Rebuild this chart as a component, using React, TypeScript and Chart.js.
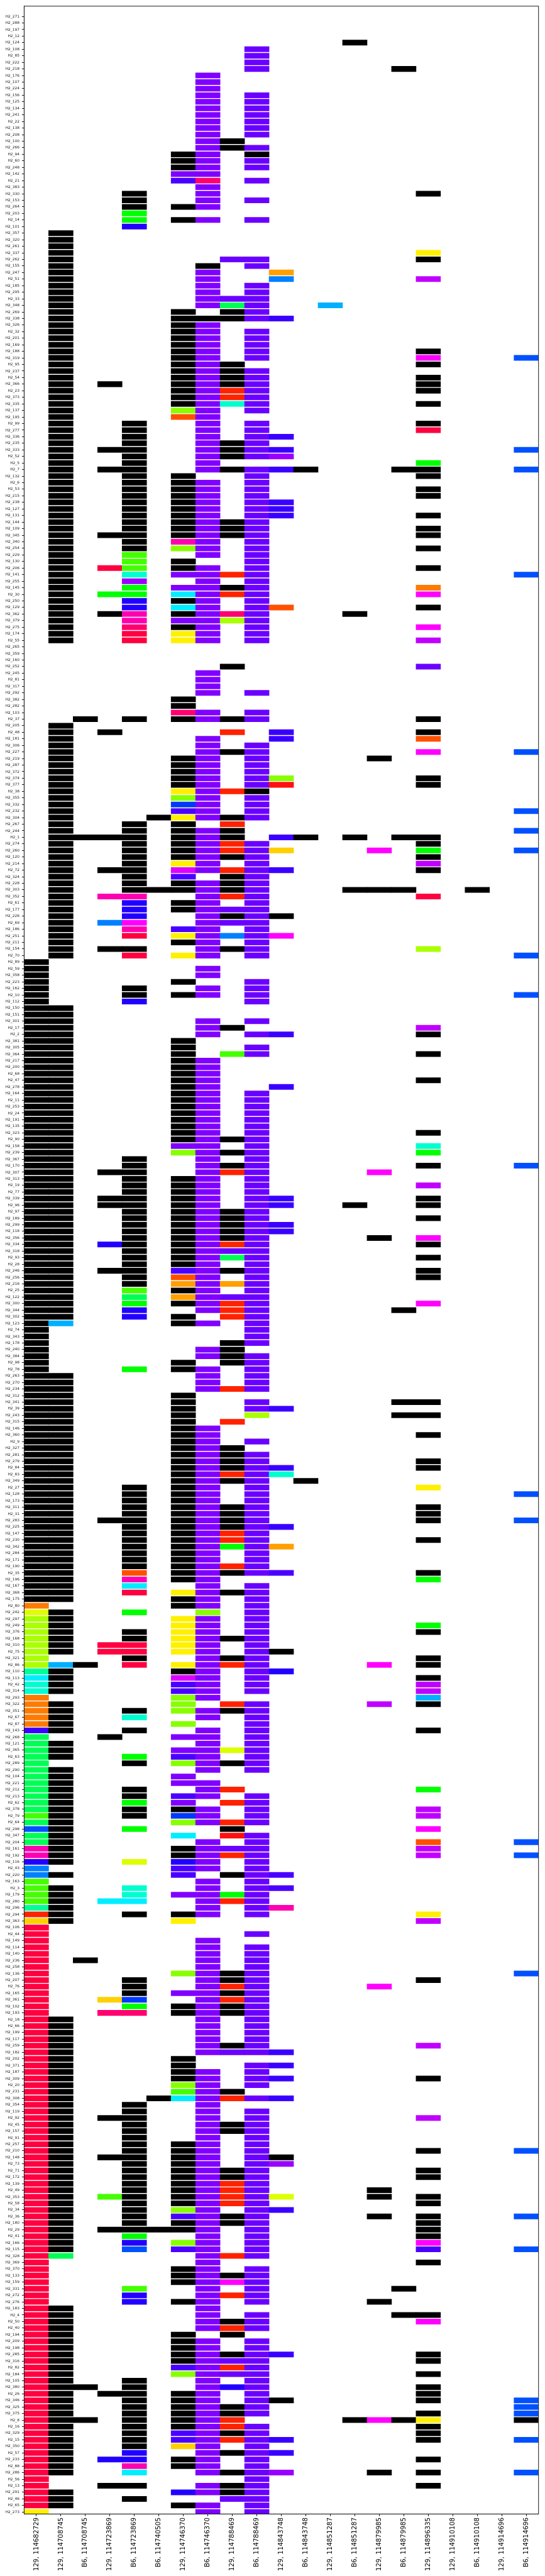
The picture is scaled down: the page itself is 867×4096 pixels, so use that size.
import { useEffect, useRef } from 'react';
import { Chart, registerables } from 'chart.js';

Chart.register(...registerables);

const colLabels = [
  '129, 114682729', '129, 114708745', 'B6, 114708745', '129, 114723869', 'B6, 114723869',
  'B6, 114740505', '129, 114746370', 'B6, 114746370', '129, 114788469', 'B6, 114788469',
  '129, 114843748', 'B6, 114843748', '129, 114851287', 'B6, 114851287', '129, 114879985',
  'B6, 114879985', '129, 114896335', '129, 114910108', 'B6, 114910108', '129, 114914696',
  'B6, 114914696',
];

const rowLabels = [
  'H2_271','H2_288','H2_197','H2_12','H2_124','H2_108','H2_85','H2_222','H2_218','H2_176',
  'H2_107','H2_224','H2_156','H2_125','H2_134','H2_241','H2_22','H2_138','H2_208','H2_100',
  'H2_266','H2_94','H2_60','H2_248','H2_142','H2_21','H2_383','H2_330','H2_153','H2_264',
  'H2_203','H2_14','H2_101','H2_357','H2_320','H2_261','H2_337','H2_262','H2_155','H2_247',
  'H2_51','H2_185','H2_295','H2_33','H2_348','H2_269','H2_338','H2_326','H2_32','H2_201',
  'H2_169','H2_188','H2_319','H2_95','H2_237','H2_54','H2_366','H2_23','H2_373','H2_335',
  'H2_137','H2_195','H2_99','H2_277','H2_336','H2_235','H2_333','H2_52','H2_5','H2_7',
  'H2_132','H2_6','H2_53','H2_215','H2_238','H2_127','H2_131','H2_144','H2_109','H2_345',
  'H2_340','H2_254','H2_229','H2_130','H2_206','H2_141','H2_255','H2_145','H2_30','H2_250',
  'H2_129','H2_362','H2_379','H2_275','H2_174','H2_55','H2_265','H2_359','H2_160','H2_252',
  'H2_245','H2_81','H2_317','H2_292','H2_382','H2_282','H2_103','H2_37','H2_205','H2_48',
  'H2_181','H2_306','H2_227','H2_219','H2_287','H2_372','H2_374','H2_377','H2_38','H2_355',
  'H2_332','H2_232','H2_304','H2_267','H2_244','H2_1','H2_274','H2_260','H2_120','H2_214',
  'H2_72','H2_324','H2_228','H2_303','H2_352','H2_61','H2_177','H2_226','H2_69','H2_186',
  'H2_251','H2_211','H2_154','H2_70','H2_89','H2_59','H2_358','H2_223','H2_162','H2_10',
  'H2_112','H2_150','H2_151','H2_301','H2_17','H2_2','H2_381','H2_305','H2_364','H2_217',
  'H2_200','H2_68','H2_47','H2_278','H2_164','H2_11','H2_253','H2_24','H2_191','H2_135',
  'H2_323','H2_90','H2_158','H2_239','H2_367','H2_170','H2_307','H2_313','H2_19','H2_77',
  'H2_339','H2_96','H2_97','H2_189','H2_299','H2_118','H2_356','H2_334','H2_318','H2_93',
  'H2_28','H2_246','H2_256','H2_216','H2_25','H2_122','H2_300','H2_344','H2_302','H2_123',
  'H2_74','H2_343','H2_178','H2_240','H2_384','H2_98','H2_78','H2_263','H2_270','H2_234',
  'H2_312','H2_341','H2_39','H2_243','H2_315','H2_146','H2_360','H2_9','H2_327','H2_281',
  'H2_279','H2_84','H2_83','H2_349','H2_27','H2_128','H2_173','H2_311','H2_31','H2_283',
  'H2_225','H2_147','H2_230','H2_342','H2_284','H2_171','H2_190','H2_35','H2_196','H2_167',
  'H2_368','H2_175','H2_80','H2_242','H2_297','H2_249','H2_376','H2_168','H2_310','H2_75',
  'H2_321','H2_86','H2_110','H2_113','H2_42','H2_314','H2_293','H2_322','H2_351','H2_67',
  'H2_87','H2_143','H2_268','H2_121','H2_365','H2_63','H2_289','H2_290','H2_104','H2_221',
  'H2_212','H2_213','H2_62','H2_378','H2_79','H2_64','H2_298','H2_347','H2_204','H2_161',
  'H2_192','H2_116','H2_43','H2_220','H2_163','H2_3','H2_179','H2_280','H2_296','H2_294',
  'H2_363','H2_106','H2_44','H2_149','H2_114','H2_140','H2_236','H2_258','H2_136','H2_207',
  'H2_76','H2_165','H2_361','H2_102','H2_193','H2_18','H2_66','H2_199','H2_117','H2_259',
  'H2_182','H2_202','H2_371','H2_187','H2_309','H2_20','H2_231','H2_308','H2_354','H2_119',
  'H2_92','H2_45','H2_157','H2_91','H2_257','H2_210','H2_148','H2_73','H2_71','H2_172',
  'H2_139','H2_49','H2_353','H2_58','H2_34','H2_36','H2_180','H2_29','H2_41','H2_166',
  'H2_115','H2_328','H2_369','H2_370','H2_133','H2_159','H2_331','H2_272','H2_276','H2_183',
  'H2_4','H2_50','H2_40','H2_194','H2_209','H2_198','H2_285','H2_316','H2_82','H2_184',
  'H2_105','H2_380','H2_26','H2_346','H2_325','H2_375','H2_8','H2_16','H2_329','H2_15',
  'H2_350','H2_57','H2_233','H2_88','H2_286','H2_56','H2_13','H2_291','H2_46','H2_65',
  'H2_273',
];

// each row: "column+colourCode" tokens
const rowCells = [
  '', '', '', '', '13k', '9u', '9u', '9u', '9u 15k', '7v',
  '7v', '7v', '7v 9u', '7v 9u', '7v 9u', '7v 9u', '7v 9u', '7v 9u', '7v 9u', '7v 8k',
  '7v 8k 9u', '6k 7v 9k', '6k 7v 9u', '6k 7v 9u', '6v 7v', '6i 7x 9u', '7v', '4k 7v 16k', '4k 7v 9u', '4k 6k 7v',
  '4g', '4g 6k 7v 9u', '4b', '1k', '1k', '1k', '1k 16y', '1k 8u 9u 16k', '1k 7k 9u', '1k 7v 10o',
  '1k 7v 10A 16z', '1k 7v 9u', '1k 7v 9u', '1k 7v 8u 9u', '1k 7v 8e 9u 12s', '1k 6k 8k 9u', '1k 6k 7k 8k 9u 10j', '1k 6k 7v', '1k 6k 7v 9u', '1k 6k 7v 9u',
  '1k 6k 7v 9u', '1k 6k 7v 9u 16k', '1k 6k 7v 9u 16m 20a', '1k 6k 7v 8k 16k', '1k 6k 7v 8k 9u', '1k 6k 7v 8k 9u 16k', '1k 3k 6k 7v 8k 9u 16k', '1k 6k 7v 8R 9u 16k', '1k 6k 7v 8R 9u', '1k 6k 7v 8t 9u 16k',
  '1k 6l 7v 9u', '1k 6n 7v', '1k 4k 7v 9u 16k', '1k 4k 7v 9u 16r', '1k 4k 7v 9u 10j', '1k 4k 7v 8k 9u', '1k 3k 4k 7v 8k 9u 10j 20a', '1k 4k 7v 8k 9u 10w', '1k 4k 7v 16g', '1k 3k 4k 7v 8k 9u 10j 11k 15k 16k 20a',
  '1k 4k 6k 9u 16k', '1k 4k 6k 7v 9u', '1k 4k 6k 7v 9u 16k', '1k 4k 6k 7v 9u 16k', '1k 4k 6k 7v 9u 10j', '1k 4k 6k 7v 9u 10j', '1k 4k 6k 7v 9u 10j 16k', '1k 4k 6k 7v 8k 9u', '1k 4k 6k 7v 8k 9u 16k', '1k 3k 4k 6k 7v 8k 9u 16k',
  '1k 4k 6M 7v 9u', '1k 4k 6l 7v 9u 16k', '1k 4h 7v 9u', '1k 4h 6k 9u', '1k 3r 4h 6k 7v 9u 16k', '1k 4t 6v 7v 8R 9u 20a', '1k 4w 7v 9u', '1k 4g 6v 7v 8k 9u 16O', '1k 3g 4g 6c 7v 8R 9u 16m', '1k 4b 6k 7v 9u',
  '1k 4b 6c 7v 9u 10n 16k', '1k 3k 4M 6k 7v 8x 9u 13k', '1k 4M 6v 7v 8L 9u', '1k 4x 6k 7v 9u 16m', '1k 4r 6y 7v 9u', '1k 4r 6y 7v 9u 16z', '', '', '', '8k 16u',
  '7v', '7v', '7v', '7v 9u', '6k', '6k', '6x 7v 9u', '2k 4k 6k 7v 8k 9u 16k', '1k', '1k 3k 8R 10j 16k',
  '1k 7v 10j 16n', '1k 7v 9u', '1k 7v 8k 9u 16m 20a', '1k 6k 7v 9u 14k', '1k 6k 7v 9u', '1k 6k 7v 9u', '1k 6k 7v 9u 10l 16k', '1k 6k 7v 9u 10f 16k', '1k 6y 7v 8R 9k', '1k 6l 7v 9u',
  '1k 6d 7v 9u', '1k 6i 7v 9u 20a', '1k 5k 6y 7v 8k 9u', '1k 4k 6k 8R', '1k 4k 6k 7v 8k 20a', '1k 2k 3k 4k 6k 7v 8k 10j 11k 13k 15k 16k', '1k 4k 6k 7v 8R 9u 16k', '1k 4k 6k 7v 8R 9u 10Y 14m 16g 20a', '1k 4k 6k 7v 8k 9u 16k', '1k 4k 6y 7v 9u 16z',
  '1k 3k 4k 6Z 7v 8R 9u 10j 16k', '1k 4k 6i 8k 9u', '1k 4k 6k 7v 8k 9u', '1k 4k 5k 6k 7v 8k 9u 13k 14k 15k 18k', '1k 3M 4M 7v 8R 9u 16r', '1k 4b 6k 7v 9u', '1k 4b 6k 7v 8u 9u', '1k 4b 7v 8k 9u 10k', '1k 3A 4m 7v 8u 9u', '1k 4M 6i 7v 9u',
  '1k 4r 6y 7v 8A 9u 10m', '1k 6k 7v 9u', '1k 3k 4k 7v 8k 9u 16L', '1k 4r 6y 7v 9u 20a', '0k', '0k 7v', '0k 7v', '0k 6k 9u', '0k 4k 7v 9u', '0k 4k 6k 7v 9u 20a',
  '0k 4b 9u', '0k 1k', '0k 1k', '0k 1k 7v 9u', '0k 1k 7v 8k 16z', '0k 1k 7v 9u 10j 16k', '0k 1k 6k', '0k 1k 6k 9u', '0k 1k 6k 8h 9u 16k', '0k 1k 6k 7v',
  '0k 1k 6k 7v', '0k 1k 6k 7v', '0k 1k 6k 7v 16k', '0k 1k 6k 7v 10j', '0k 1k 6k 7v 9u', '0k 1k 6k 7v 9u', '0k 1k 6k 7v 9u', '0k 1k 6k 7v 9u', '0k 1k 6k 7v 9u', '0k 1k 6k 7v 9u',
  '0k 1k 6k 7v 9u 16k', '0k 1k 6k 7v 8k 9u', '0k 1k 6v 7v 9u 16t', '0k 1k 6l 7v 8k 9u 16g', '0k 1k 4k 7v 9u', '0k 1k 4k 7v 8k 9u 16k 20a', '0k 1k 3k 4k 7v 8R 9u 14m', '0k 1k 4k 6k 7v 9u', '0k 1k 4k 6k 7v 9u 16z', '0k 1k 4k 6k 7v 9u',
  '0k 1k 3k 4k 6k 7v 9u 10j 16k', '0k 1k 3k 4k 6k 7v 9u 10j 13k 16k', '0k 1k 4k 6k 7v 8k 9u', '0k 1k 4k 6k 7v 8k 9u 16k', '0k 1k 4k 6k 7v 8k 9u 10j', '0k 1k 4k 6k 7v 8k 9u 10j', '0k 1k 4k 6k 7v 8k 9u 14k 16m', '0k 1k 3b 4k 6k 7v 8R 9u 16k', '0k 1k 4k 6k 7v 8u 9u', '0k 1k 4k 6k 7v 8e 9u 16k',
  '0k 1k 4k 6k 7v 9u', '0k 1k 3k 4k 6i 7v 8k 9u 16k', '0k 1k 4k 6n 7v 9u 16k', '0k 1k 4k 6o 7v 8o 9u', '0k 1k 4h 6k 7v 9u', '0k 1k 4e 6o 7v 8u 9u', '0k 1k 4g 6k 7v 8R 9u 16m', '0k 1k 4b 7v 8R 9u 15k', '0k 1k 4b 6k 8R 9u', '0k 1s 6k 7v 9u',
  '0k 9u', '0k 9u', '0k 8k 9u', '0k 7v 8k', '0k 7v 8k 9u', '0k 6k 8k 9u', '0k 4g 6k 7v 9u', '0k 1k 7v 9u', '0k 1k 7v 9u', '0k 1k 7v 8R 9u',
  '0k 1k 6k', '0k 1k 6k 9u 15k 16k', '0k 1k 6k 9u 10j', '0k 1k 6k 9L 15k 16k', '0k 1k 6k 8R', '0k 1k 6k 7v', '0k 1k 6k 7v 16k', '0k 1k 6k 7v 9u', '0k 1k 6k 7v 8k', '0k 1k 6k 7v 8k 9u',
  '0k 1k 6k 7v 8k 9u 16k', '0k 1k 6k 7v 8k 9u 10j 16k', '0k 1k 6k 7v 8R 9u 10t', '0k 1k 6k 7v 8k 9u 11k', '0k 1k 4k 6k 7v 9u 16y', '0k 1k 4k 6k 7v 9u 20a', '0k 1k 4k 6k 7v 9u', '0k 1k 4k 6k 7v 8k 9u 16k', '0k 1k 4k 6k 7v 8k 9u 16k', '0k 1k 3k 4k 6k 7v 8k 9u 16k 20a',
  '0k 1k 4k 6k 7v 8k 9u 10j', '0k 1k 4k 6k 7v 8R 9u', '0k 1k 4k 6k 7v 8R 9u 16k', '0k 1k 4k 6k 7v 8g 9u 10o', '0k 1k 4k 6k 7v 9u', '0k 1k 4k 6k 7v 9u', '0k 1k 4k 6k 7v 8R 9u', '0k 1k 4n 6k 7v 8k 9u 10i 16k', '0k 1k 4M 6k 7v 16g', '0k 1k 4c 7v 9u',
  '0k 1k 4r 6y 7v 8k 9u', '0k 1k 6k 7v 9u', '0O 6k 7v 9u', '0q 1k 4g 7l 9u', '0L 1k 6y 7v 9u', '0L 1k 6y 7v 9u 16g', '0L 1k 4k 6y 7v 9u 16k', '0L 1k 4k 6y 7v 8k 9u', '0L 1k 3r 4r 6y 7v 9u', '0L 1k 3r 4r 6y 7v 9u 10k',
  '0L 4k 7v 8k 9u 16k', '0L 1s 2k 4r 6y 7v 8R 9u 14m 16k', '0T 1k 6k 7v 9u 10b', '0c 1k 6Z 7v 9u 16k', '0t 1k 6i 7v 9u 16z', '0t 1k 6i 7v 9u 16z', '0O 6l 7v 16s', '0O 1k 6l 8R 9u 14z 16k', '0O 1k 4k 6l 7v 8k 9u', '0O 1k 4t 7v 9u',
  '0O 1k 6l 9u', '0j 1k 4k 7v 9u 16k', '0e 3k 6v 7v 9u', '0e 1k 7v 9u', '0e 1k 6v 7v 8q 9u', '0e 1k 4g 6i 7v 9u', '0e 4k 6l 7v 8k 9u', '0e 1k 7v 9u', '0e 1k 6v', '0e 1k 6v 7v',
  '0e 1k 4k 7v 8R 16g', '0e 1k 4k 6i 7v 9u', '0e 1k 4g 6v 8R 9u', '0e 1k 4k 6k 7v 9u 16z', '0h 1k 4k 6d 7v 9u 16z', '0e 1k 6l 7v 8R 9u', '0a 1k 4g 8k 16m', '0e 1k 6c 8f 9u', '0e 1k 7v 9u 16n 20a', '0M 1k 6k 7v 8u 9u 16z',
  '0M 1k 6k 7v 8R 9u 16z 20a', '0b 1k 4q 6b 7v 9u', '0A 6i 7v 9u', '0A 1k 6i 8k 9u 10i', '0h 7v 9u', '0h 1k 4t 7v 9u 10i', '0h 1k 4t 6v 7v 8g 9u', '0h 1k 3c 4c 7v 8R 9u', '0T 1k 7v 9u 10M', '0R 1k 4k 6k 7v 9u 16y',
  '0Y 1k 6y 16z', '0r', '0r 9u', '0r 7v', '0r 7v 9u', '0r 7v 9u', '0r 2k 7v 9u', '0r 7v 9u', '0r 6l 7v 8k 9u 20a', '0r 4k 7v 8k 9u 16k',
  '0r 4k 7v 8R 9u 14m', '0r 4k 6v 7v 8k 9u', '0r 3Y 4d 7v 8R 9u', '0r 4g 6k 7v 8k 9u', '0r 3x 4x 6k 7v 8k 9u', '0r 1k 7v 9u', '0r 1k 7v 9u', '0r 1k 7v 9u', '0r 1k 7v 9u', '0r 1k 7v 8k 9u 16z',
  '0r 1k 7v 8u 9u 10j', '0r 1k 6k', '0r 1k 6k 9u 10j', '0r 1k 6k 7v 9u', '0r 1k 6k 7v 9u 10j 16k', '0r 1k 6l 7v 9u', '0r 1k 6h 7v 8k', '0r 1k 5k 6c 7v 8R 9u 10j', '0r 1k 4k 7v', '0r 1k 4k 7v 9u',
  '0r 1k 3k 4k 7v 9u 16z', '0r 1k 4k 7v 8k 9u', '0r 1k 4k 7v 8k 9u', '0r 1k 4k 7v 9u', '0r 1k 4k 6k 7v 9u', '0r 1k 4k 6k 7v 9u 16k 20a', '0r 1k 3k 4k 6k 7v 9u 10k', '0r 1k 4k 6k 7v 9u 10w', '0r 1k 4k 6k 7v 8k 9u 16k', '0r 1k 4k 6k 7v 8k 9u 16k',
  '0r 1k 4k 6k 7v 8R 9u', '0r 1k 4k 6k 7v 8R 9u 14k', '0r 1k 3h 4k 6k 7v 8R 9u 10q 14k 16k', '0r 1k 4k 6k 7v 8R 9u 16k', '0r 1k 4k 6l 7v 9u 10j', '0r 1k 4k 6i 7v 8k 9u 14k 16k 20a', '0r 1k 4k 6k 7v 8k 9u 16k', '0r 1k 3k 4k 5k 6k 7v 9u 16k', '0r 1k 4g 7v 9u 16k', '0r 1k 4b 6l 7v 9u 16m',
  '0r 1k 4a 6i 7v 9u 16i 20a', '0r 1e 7v 8R 9u', '0r 7v 16k', '0r 6k 7v 9u', '0r 6k 7v 8k 9u', '0r 6k 7v 8m 9u', '0r 4h 7v 9u 15k', '0r 4b 7v 8R 9u', '0r 4b 6k 7v 9u 14k', '0r 1k 7v',
  '0r 1k 7v 9u 15k 16k', '0r 1k 7v 8k 9u 16m', '0r 1k 7v 8R 9u', '0r 1k 6k 8k', '0r 1k 6k 7v 9u', '0r 1k 6k 7v 9u', '0r 1k 6k 7v 8k 9u 10j 16k', '0r 1k 6k 7v 8u 9u 16k', '0r 1k 6i 7v 8R 9u', '0r 1k 6l 7v 8u 9u 16k',
  '0r 1k 4k 7v 9u', '0r 1k 2k 4k 7v 8b 9u 16k', '0r 1k 3k 4k 6k 7v 9u 16k', '0r 1k 4k 6k 7v 9u 10k 16k 20a', '0r 1k 4k 6k 7v 8k 9u 20a', '0r 1k 4k 6k 7v 8k 9u 16k 20a', '0r 1k 2k 4k 6k 7v 8R 13k 14m 15k 16y 20k', '0r 1k 4k 6k 7v 8R 9u 16k', '0r 1k 4k 6i 7v 8k 9u 16k', '0r 1k 4k 6i 7v 8R 9u 10j 16k 20a',
  '0r 1k 4k 6Y 7v 9u', '0r 1k 4b 7v 8k 9u 10j', '0r 1k 3b 4b 6k 7v 9u 16k', '0r 1k 4M 6k 7v 9u', '0r 1k 4c 7v 8k 9u 10w 14k 16k 20a', '0r 9u', '0r 3k 4k 7v 8k 9u 16k', '0r 1k 6b 7v 8k 9u', '0r 1k 4k 8u 9u', '0r 1k 6k 7v 9u',
  '0y 7v 9u',
];

const palette: Record<string, string> = {
  k: '#000000', v: '#7f00ff', u: '#6a00ff', b: '#2200ff', j: '#3a00ff', i: '#4a00ff',
  w: '#9900ff', z: '#c000ff', Z: '#dd00ff', m: '#ff00ff', M: '#ff00b0', x: '#ff0070',
  r: '#ff0040', f: '#ff1010', R: '#ff2200', n: '#ff5000', O: '#ff7a00', o: '#ffa000',
  Y: '#ffd000', y: '#fff000', q: '#ddff00', L: '#aaff00', l: '#88ff00', h: '#44ff00',
  g: '#00ff00', e: '#00ff55', T: '#00ff99', t: '#00ffd0', c: '#00eeff', s: '#00b0ff',
  A: '#0080ff', a: '#0050ff', d: '#0038ff',
};

const W = 867;
const H = 4092;
const PLOT_LEFT = 38.4;
const PLOT_RIGHT = 856.7;
const PLOT_TOP = 9.8;
const PLOT_BOTTOM = 3997.4;

const framePlugin = {
  id: 'frame',
  afterDatasetsDraw(chart: any) {
    const { ctx, chartArea: a } = chart;
    ctx.save();
    ctx.strokeStyle = '#1a1a1a';
    ctx.lineWidth = 1;
    ctx.strokeRect(a.left, a.top, a.right - a.left, a.bottom - a.top);
    ctx.restore();
  },
};

export default function App() {
  const ref = useRef<HTMLCanvasElement>(null);
  useEffect(() => {
    document.body.style.margin = '0';
    const points: any[] = [];
    const colors: string[] = [];
    rowCells.forEach((s, r) => {
      if (!s) return;
      s.split(' ').forEach((tok) => {
        const c = parseInt(tok, 10);
        const code = tok.replace(/^\d+/, '');
        points.push({ x: colLabels[c], y: [r - 0.4, r + 0.4] });
        colors.push(palette[code] || '#000');
      });
    });
    const chart = new Chart(ref.current as HTMLCanvasElement, {
      type: 'bar',
      data: {
        labels: colLabels,
        datasets: [
          {
            data: points,
            backgroundColor: colors,
            borderWidth: 0,
            barPercentage: 1,
            categoryPercentage: 1,
          } as any,
        ],
      },
      options: {
        animation: false,
        responsive: false,
        maintainAspectRatio: false,
        devicePixelRatio: 1,
        events: [],
        layout: { padding: { top: PLOT_TOP, right: W - PLOT_RIGHT, left: 0, bottom: 0 } },
        plugins: { legend: { display: false }, tooltip: { enabled: false } },
        scales: {
          x: {
            type: 'category',
            offset: true,
            grid: { offset: false, drawOnChartArea: false, tickLength: 3.5, color: '#1a1a1a', tickWidth: 1 },
            border: { display: true, color: '#1a1a1a' },
            ticks: {
              autoSkip: false,
              minRotation: 90,
              maxRotation: 90,
              padding: 2,
              color: '#000',
              font: { family: 'DejaVu Sans', size: 10.3 },
            },
            afterFit: (s: any) => { s.height = H - PLOT_BOTTOM; },
          },
          y: {
            type: 'linear',
            reverse: true,
            min: -1.56,
            max: 380.3,
            grid: { drawOnChartArea: false, tickLength: 3.5, color: '#1a1a1a', tickWidth: 1 },
            border: { display: true, color: '#1a1a1a' },
            afterBuildTicks: (s: any) => { s.ticks = rowLabels.map((_, i) => ({ value: i })); },
            ticks: {
              autoSkip: false,
              padding: 3.9,
              color: '#222',
              font: { family: 'DejaVu Sans', size: 5.9 },
              callback: (v: any) => rowLabels[v as number] ?? '',
            },
            afterFit: (s: any) => { s.width = PLOT_LEFT; },
          },
        },
      },
      plugins: [framePlugin],
    } as any);
    return () => chart.destroy();
  }, []);
  return (
    <canvas ref={ref} width={W} height={H} style={{ display: 'block', width: W, height: H }} />
  );
}
